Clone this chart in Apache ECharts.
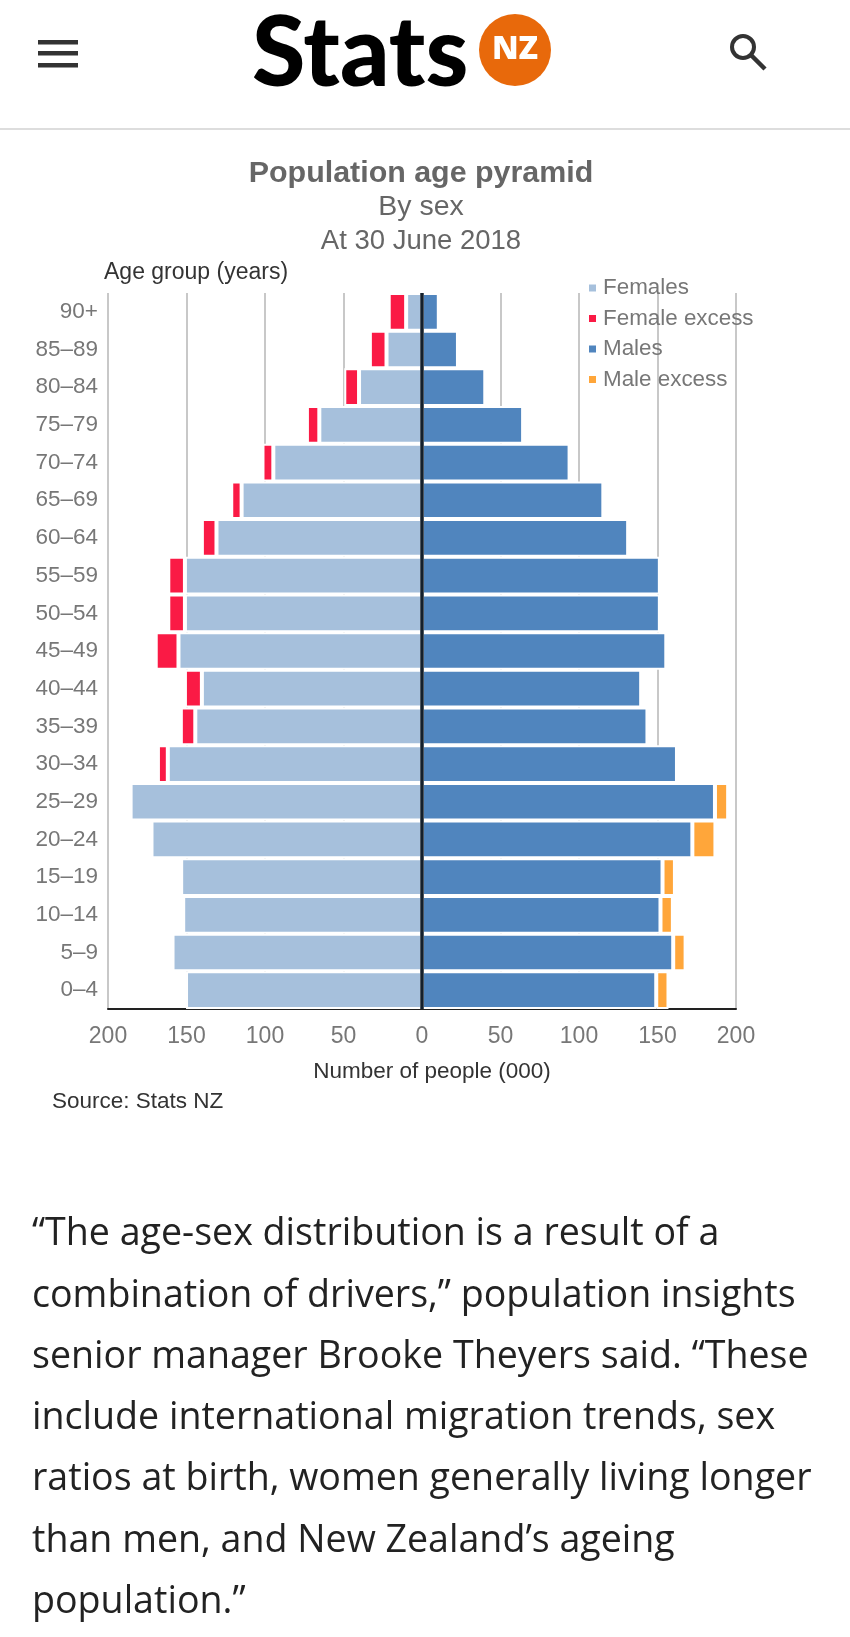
<!DOCTYPE html>
<html><head><meta charset="utf-8">
<style>html,body{margin:0;padding:0;background:#fff}#c{width:850px;height:1637px}</style>
<script src="https://cdn.jsdelivr.net/npm/echarts@6/dist/echarts.min.js"></script>
</head><body><div id="c"></div>
<script>
const ageGroups = ['90+','85–89','80–84','75–79','70–74','65–69','60–64','55–59','50–54','45–49','40–44','35–39','30–34','25–29','20–24','15–19','10–14','5–9','0–4'];
const females = [10.1,22.6,40.1,65.4,94.7,114.9,130.9,151,151,155.1,140.2,144.4,161.9,185.6,172.3,153.4,152.1,158.9,150.3];
const femaleExcess = [11.1,10.6,9.4,7.9,6.9,6.6,9.3,10.6,10.6,14.5,10.8,9.2,6.3,null,null,null,null,null,null];
const males = [10.7,22.9,40.3,64.4,94,115.5,131.3,151.5,151.5,155.6,139.6,143.6,162.4,186.6,172.2,153.2,151.9,160,149.2];
const maleExcess = [null,null,null,null,null,null,null,null,null,null,null,null,null,8.4,14.7,7.9,7.9,7.9,7.8];
const bodyLines = ['“The age-sex distribution is a result of a','combination of drivers,” population insights','senior manager Brooke Theyers said. “These','include international migration trends, sex','ratios at birth, women generally living longer','than men, and New Zealand’s ageing','population.”'];
const neg = a => a.map(v => v === null ? null : -v);
const font = 'Liberation Sans';
const grey = '#777';
const bar = (name, data, color) => ({name, type:'bar', stack:'p', data, barCategoryGap:'0%',
  itemStyle:{color, borderColor:'#fff', borderWidth:2}, silent:true, animation:false});
const series = [
  bar('Females', neg(females), '#A6C0DC'),
  bar('Female excess', neg(femaleExcess), '#FA1A45'),
  bar('Males', males, '#5085BE'),
  bar('Male excess', maleExcess, '#FFA63A')
];
series[3].markLine = {silent:true, symbol:'none', animation:false, label:{show:false}, z:20,
  lineStyle:{color:'#14202c', width:3.5, type:'solid'}, data:[{xAxis:0}]};
const titleAt = (text, top, size, weight) => ({text, left:421, top, padding:0, textAlign:'center',
  textStyle:{fontFamily:font, fontSize:size, fontWeight:weight, color:'#666'}});
const graphic = [
  {type:'line', shape:{x1:0,y1:129,x2:850,y2:129}, style:{stroke:'#ddd', lineWidth:2}},
  {type:'rect', shape:{x:38,y:40,width:40,height:4.5}, style:{fill:'#333'}},
  {type:'rect', shape:{x:38,y:51,width:40,height:4.5}, style:{fill:'#333'}},
  {type:'rect', shape:{x:38,y:63,width:40,height:4.5}, style:{fill:'#333'}},
  {type:'circle', shape:{cx:743,cy:47,r:11}, style:{fill:'none', stroke:'#333', lineWidth:4}},
  {type:'line', shape:{x1:751,y1:55,x2:765,y2:69}, style:{stroke:'#333', lineWidth:4.5}},
  {type:'text', x:252, y:55, style:{text:'Stats', fontFamily:'Lato', fontWeight:900, fontSize:97, fill:'#000', textVerticalAlign:'middle'}},
  {type:'circle', shape:{cx:515,cy:50,r:36}, style:{fill:'#E8690B'}},
  {type:'text', x:515, y:50, style:{text:'NZ', fontFamily:'Open Sans', fontWeight:800, fontSize:32, fill:'#fff', textAlign:'center', textVerticalAlign:'middle'}},
  {type:'text', x:52, y:1102, style:{text:'Source: Stats NZ', fontFamily:font, fontSize:22.5, fill:'#333', textVerticalAlign:'middle'}},
  ...bodyLines.map((t,i)=>({type:'text', x:32, y:1234.5+i*61.3, style:{text:t, fontFamily:'Open Sans', fontSize:37.6, fill:'#222', textVerticalAlign:'middle'}}))
];
const chart = echarts.init(document.getElementById('c'), null, {renderer:'canvas'});
chart.setOption({
  animation:false,
  backgroundColor:'#fff',
  title:[titleAt('Population age pyramid',159,30.4,'bold'),titleAt('By sex',193,28.5,'normal'),titleAt('At 30 June 2018',227,27.5,'normal')],
  grid:{left:108, top:293, width:628, height:716, containLabel:false},
  legend:{orient:'vertical', left:582, top:272, itemWidth:9, itemHeight:9, itemGap:8.5, icon:'rect', selectedMode:false,
    textStyle:{fontFamily:font, fontSize:22.4, color:grey, padding:[0,0,0,1]},
    data:['Females','Female excess','Males','Male excess']},
  xAxis:{type:'value', min:-200, max:200, interval:50,
    axisLine:{show:true, onZero:false, lineStyle:{color:'#222', width:2}},
    axisTick:{show:false},
    splitLine:{show:true, lineStyle:{color:'#c8c8c8', width:2}},
    axisLabel:{fontFamily:font, fontSize:23, color:grey, margin:16, formatter:v=>Math.abs(v)},
    name:'Number of people (000)', nameLocation:'middle', nameGap:51,
    nameTextStyle:{fontFamily:font, fontSize:22.5, color:'#333', padding:[0,0,0,20]}},
  yAxis:{type:'category', inverse:true, data:ageGroups,
    axisLine:{show:false, onZero:false}, axisTick:{show:false},
    axisLabel:{fontFamily:font, fontSize:22.5, color:grey, margin:10},
    name:'Age group (years)', nameLocation:'start', nameGap:9,
    nameTextStyle:{fontFamily:font, fontSize:23, color:'#333', align:'left', padding:[0,0,0,-4]}},
  series,
  graphic
});
</script></body></html>
